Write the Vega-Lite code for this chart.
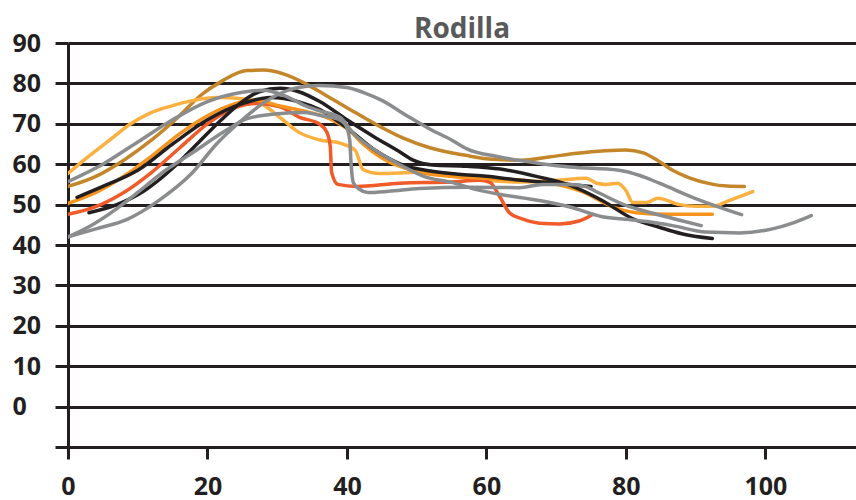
{
  "$schema": "https://vega.github.io/schema/vega-lite/v6.json",
  "width": 788,
  "height": 404,
  "autosize": {"type": "none"},
  "padding": {"left": 68, "top": 43, "right": 0, "bottom": 53},
  "background": "white",
  "title": {"text": "Rodilla", "font": "Open Sans", "fontSize": 28, "fontWeight": "bold", "color": "#58595B", "frame": "group", "anchor": "middle", "baseline": "alphabetic", "offset": 7, "dy": 42},
  "config": {"view": {"stroke": null}},
  "data": {"values": [
    {"s":"Serie 1","x":0,"y":54.5},{"s":"Serie 1","x":4,"y":57},{"s":"Serie 1","x":8,"y":61},{"s":"Serie 1","x":12,"y":66},{"s":"Serie 1","x":16,"y":72},{"s":"Serie 1","x":19,"y":77},{"s":"Serie 1","x":22,"y":80.5},{"s":"Serie 1","x":25.6,"y":83.2},{"s":"Serie 1","x":28,"y":83.3},{"s":"Serie 1","x":31,"y":82.3},{"s":"Serie 1","x":34,"y":80},{"s":"Serie 1","x":37,"y":77},{"s":"Serie 1","x":40,"y":74},{"s":"Serie 1","x":44,"y":70},{"s":"Serie 1","x":48,"y":66.5},{"s":"Serie 1","x":52,"y":64},{"s":"Serie 1","x":57,"y":62.2},{"s":"Serie 1","x":61,"y":61.2},{"s":"Serie 1","x":65,"y":61},{"s":"Serie 1","x":69,"y":61.8},{"s":"Serie 1","x":73,"y":62.7},{"s":"Serie 1","x":77,"y":63.3},{"s":"Serie 1","x":80,"y":63.5},{"s":"Serie 1","x":82.5,"y":62.8},{"s":"Serie 1","x":84.5,"y":61},{"s":"Serie 1","x":86.7,"y":58.5},{"s":"Serie 1","x":89,"y":56.7},{"s":"Serie 1","x":92,"y":55.2},{"s":"Serie 1","x":94.5,"y":54.6},{"s":"Serie 1","x":97,"y":54.5},

    {"s":"Serie 2","x":0,"y":57.7},{"s":"Serie 2","x":3,"y":62},{"s":"Serie 2","x":6,"y":66},{"s":"Serie 2","x":9,"y":70},{"s":"Serie 2","x":11.7,"y":72.6},{"s":"Serie 2","x":15,"y":74.5},{"s":"Serie 2","x":18,"y":75.8},{"s":"Serie 2","x":21.3,"y":76.5},{"s":"Serie 2","x":25,"y":76.2},{"s":"Serie 2","x":27.5,"y":75.2},{"s":"Serie 2","x":30.8,"y":71},{"s":"Serie 2","x":33,"y":68},{"s":"Serie 2","x":36.1,"y":66},{"s":"Serie 2","x":39,"y":65.2},{"s":"Serie 2","x":41.2,"y":63.4},{"s":"Serie 2","x":42.3,"y":58.7},{"s":"Serie 2","x":44.7,"y":57.7},{"s":"Serie 2","x":50.4,"y":58},{"s":"Serie 2","x":55,"y":57},{"s":"Serie 2","x":60,"y":56},{"s":"Serie 2","x":64.8,"y":55.6},{"s":"Serie 2","x":70,"y":56},{"s":"Serie 2","x":74.3,"y":56.5},{"s":"Serie 2","x":75.8,"y":55.3},{"s":"Serie 2","x":77.2,"y":55},{"s":"Serie 2","x":78.8,"y":55.3},{"s":"Serie 2","x":80,"y":53.5},{"s":"Serie 2","x":81,"y":50.5},{"s":"Serie 2","x":83,"y":50.5},{"s":"Serie 2","x":84.6,"y":51.6},{"s":"Serie 2","x":87.7,"y":50},{"s":"Serie 2","x":90,"y":49.6},{"s":"Serie 2","x":92.4,"y":49.6},{"s":"Serie 2","x":94.8,"y":51},{"s":"Serie 2","x":98.2,"y":53.2},

    {"s":"Serie 3","x":0,"y":47.6},{"s":"Serie 3","x":4,"y":49.5},{"s":"Serie 3","x":8,"y":53},{"s":"Serie 3","x":12,"y":58},{"s":"Serie 3","x":16,"y":64},{"s":"Serie 3","x":20,"y":70},{"s":"Serie 3","x":24,"y":74},{"s":"Serie 3","x":27,"y":75},{"s":"Serie 3","x":30.4,"y":74.2},{"s":"Serie 3","x":33.2,"y":71.6},{"s":"Serie 3","x":36,"y":70},{"s":"Serie 3","x":37.1,"y":68},{"s":"Serie 3","x":37.6,"y":64.5},{"s":"Serie 3","x":37.8,"y":58},{"s":"Serie 3","x":38.7,"y":55},{"s":"Serie 3","x":41.4,"y":54.5},{"s":"Serie 3","x":47.6,"y":55.3},{"s":"Serie 3","x":55,"y":55.6},{"s":"Serie 3","x":59,"y":56},{"s":"Serie 3","x":60.5,"y":55.5},{"s":"Serie 3","x":61.9,"y":52},{"s":"Serie 3","x":63.3,"y":48},{"s":"Serie 3","x":65,"y":46.5},{"s":"Serie 3","x":67.6,"y":45.4},{"s":"Serie 3","x":70.5,"y":45.2},{"s":"Serie 3","x":73.4,"y":46},{"s":"Serie 3","x":75,"y":47.3},

    {"s":"Serie 4","x":0,"y":50.3},{"s":"Serie 4","x":4,"y":53},{"s":"Serie 4","x":8,"y":57},{"s":"Serie 4","x":12,"y":62},{"s":"Serie 4","x":16,"y":67.5},{"s":"Serie 4","x":20,"y":72},{"s":"Serie 4","x":24,"y":75},{"s":"Serie 4","x":27,"y":75.8},{"s":"Serie 4","x":30.4,"y":74.4},{"s":"Serie 4","x":33.5,"y":73.3},{"s":"Serie 4","x":37.5,"y":71.3},{"s":"Serie 4","x":40.4,"y":68.3},{"s":"Serie 4","x":42.3,"y":65},{"s":"Serie 4","x":45,"y":61.5},{"s":"Serie 4","x":50.4,"y":58},{"s":"Serie 4","x":55,"y":57},{"s":"Serie 4","x":60,"y":56.5},{"s":"Serie 4","x":65,"y":56},{"s":"Serie 4","x":70,"y":55},{"s":"Serie 4","x":74,"y":53},{"s":"Serie 4","x":78,"y":49.5},{"s":"Serie 4","x":81.5,"y":48},{"s":"Serie 4","x":86,"y":47.6},{"s":"Serie 4","x":92.4,"y":47.6},

    {"s":"Serie 5","x":3,"y":48},{"s":"Serie 5","x":7,"y":50},{"s":"Serie 5","x":11,"y":53.5},{"s":"Serie 5","x":15,"y":59},{"s":"Serie 5","x":18.5,"y":65},{"s":"Serie 5","x":22,"y":71},{"s":"Serie 5","x":25,"y":75.5},{"s":"Serie 5","x":27.5,"y":78},{"s":"Serie 5","x":30.4,"y":78.8},{"s":"Serie 5","x":33,"y":78},{"s":"Serie 5","x":36.1,"y":75.5},{"s":"Serie 5","x":40,"y":71},{"s":"Serie 5","x":43.7,"y":67},{"s":"Serie 5","x":47.6,"y":63},{"s":"Serie 5","x":49.5,"y":61},{"s":"Serie 5","x":52.3,"y":59.8},{"s":"Serie 5","x":57.2,"y":59.5},{"s":"Serie 5","x":62,"y":58.8},{"s":"Serie 5","x":67.6,"y":56.8},{"s":"Serie 5","x":71.9,"y":54.8},{"s":"Serie 5","x":76.6,"y":51},{"s":"Serie 5","x":81,"y":46.5},{"s":"Serie 5","x":84.8,"y":44.4},{"s":"Serie 5","x":88,"y":42.8},{"s":"Serie 5","x":92.4,"y":41.6},

    {"s":"Serie 6","x":1.3,"y":51.8},{"s":"Serie 6","x":5,"y":54.5},{"s":"Serie 6","x":10,"y":58.5},{"s":"Serie 6","x":15,"y":65},{"s":"Serie 6","x":20,"y":71},{"s":"Serie 6","x":25,"y":75},{"s":"Serie 6","x":29,"y":76.5},{"s":"Serie 6","x":33,"y":75.5},{"s":"Serie 6","x":36.1,"y":73.5},{"s":"Serie 6","x":40,"y":69},{"s":"Serie 6","x":44,"y":63.5},{"s":"Serie 6","x":48,"y":59.8},{"s":"Serie 6","x":52,"y":58.3},{"s":"Serie 6","x":56,"y":57.5},{"s":"Serie 6","x":60,"y":57},{"s":"Serie 6","x":65,"y":56},{"s":"Serie 6","x":70,"y":55.3},{"s":"Serie 6","x":75,"y":54.5},

    {"s":"Serie 7","x":0,"y":55.7},{"s":"Serie 7","x":5,"y":60},{"s":"Serie 7","x":10,"y":65.5},{"s":"Serie 7","x":15,"y":71},{"s":"Serie 7","x":20,"y":75.5},{"s":"Serie 7","x":25,"y":77.8},{"s":"Serie 7","x":28,"y":78.3},{"s":"Serie 7","x":31,"y":77},{"s":"Serie 7","x":34,"y":74.5},{"s":"Serie 7","x":36.1,"y":73.2},{"s":"Serie 7","x":39,"y":71.6},{"s":"Serie 7","x":41,"y":67.5},{"s":"Serie 7","x":44,"y":63.5},{"s":"Serie 7","x":48,"y":59.5},{"s":"Serie 7","x":51,"y":57},{"s":"Serie 7","x":55,"y":55.5},{"s":"Serie 7","x":58.6,"y":53.7},{"s":"Serie 7","x":62,"y":52.5},{"s":"Serie 7","x":67.6,"y":51},{"s":"Serie 7","x":72,"y":49.4},{"s":"Serie 7","x":76.6,"y":47},{"s":"Serie 7","x":80.5,"y":46.3},{"s":"Serie 7","x":83,"y":45.8},{"s":"Serie 7","x":86.7,"y":44.8},{"s":"Serie 7","x":91.5,"y":43.2},{"s":"Serie 7","x":96.3,"y":43},{"s":"Serie 7","x":101,"y":44},{"s":"Serie 7","x":104,"y":45.5},{"s":"Serie 7","x":106.6,"y":47.3},

    {"s":"Serie 8","x":0,"y":42},{"s":"Serie 8","x":4,"y":44},{"s":"Serie 8","x":8.4,"y":46.3},{"s":"Serie 8","x":13,"y":51},{"s":"Serie 8","x":17.9,"y":58},{"s":"Serie 8","x":21.3,"y":65},{"s":"Serie 8","x":25,"y":71},{"s":"Serie 8","x":27.5,"y":74.5},{"s":"Serie 8","x":30.4,"y":77.5},{"s":"Serie 8","x":33,"y":79},{"s":"Serie 8","x":36,"y":79.5},{"s":"Serie 8","x":40,"y":79},{"s":"Serie 8","x":42.3,"y":77.8},{"s":"Serie 8","x":45,"y":75.8},{"s":"Serie 8","x":48.6,"y":72},{"s":"Serie 8","x":52,"y":68.6},{"s":"Serie 8","x":55,"y":66},{"s":"Serie 8","x":57.2,"y":63.8},{"s":"Serie 8","x":61.9,"y":61.8},{"s":"Serie 8","x":67.6,"y":60.2},{"s":"Serie 8","x":72,"y":59.3},{"s":"Serie 8","x":79,"y":58.5},{"s":"Serie 8","x":82,"y":57.2},{"s":"Serie 8","x":84.8,"y":55.3},{"s":"Serie 8","x":90,"y":51.5},{"s":"Serie 8","x":96.6,"y":47.5},

    {"s":"Serie 9","x":0,"y":42},{"s":"Serie 9","x":3,"y":44.5},{"s":"Serie 9","x":7,"y":49},{"s":"Serie 9","x":10,"y":53},{"s":"Serie 9","x":13.2,"y":57.5},{"s":"Serie 9","x":18,"y":63},{"s":"Serie 9","x":22.8,"y":68.5},{"s":"Serie 9","x":25.6,"y":71.2},{"s":"Serie 9","x":30,"y":72.5},{"s":"Serie 9","x":34,"y":72.8},{"s":"Serie 9","x":36.1,"y":72.1},{"s":"Serie 9","x":38.5,"y":71.3},{"s":"Serie 9","x":39.7,"y":70},{"s":"Serie 9","x":40.4,"y":66},{"s":"Serie 9","x":40.6,"y":60},{"s":"Serie 9","x":40.9,"y":55.5},{"s":"Serie 9","x":41.8,"y":53.8},{"s":"Serie 9","x":43,"y":53},{"s":"Serie 9","x":46,"y":53.3},{"s":"Serie 9","x":50.4,"y":54},{"s":"Serie 9","x":57.6,"y":54.3},{"s":"Serie 9","x":64.8,"y":54.2},{"s":"Serie 9","x":68,"y":55},{"s":"Serie 9","x":71.9,"y":55},{"s":"Serie 9","x":74,"y":54.6},{"s":"Serie 9","x":76,"y":53},{"s":"Serie 9","x":80,"y":49.8},{"s":"Serie 9","x":84,"y":47.8},{"s":"Serie 9","x":88,"y":46},{"s":"Serie 9","x":90.8,"y":44.8}
  ]},
  "mark": {"type": "line", "interpolate": "monotone", "strokeWidth": 3.5, "strokeCap": "round", "clip": true},
  "encoding": {
    "x": {"field": "x", "type": "quantitative",
      "scale": {"domain": [0, 113], "nice": false, "zero": false},
      "axis": {"title": null, "values": [0, 20, 40, 60, 80, 100], "grid": false,
        "domainColor": "#231F20", "domainWidth": 3, "tickColor": "#231F20", "tickWidth": 3, "tickSize": 12,
        "labelFont": "Open Sans", "labelFontSize": 25, "labelFontWeight": "bold", "labelColor": "#231F20", "labelPadding": 15, "labelFlush": false}},
    "y": {"field": "y", "type": "quantitative",
      "scale": {"domain": [-10, 90], "nice": false, "zero": false},
      "axis": {"title": null, "values": [-10, 0, 10, 20, 30, 40, 50, 60, 70, 80, 90],
        "labelExpr": "datum.value < 0 ? '' : datum.label",
        "grid": true, "gridColor": "#231F20", "gridWidth": 3, "gridOpacity": 1,
        "domainColor": "#231F20", "domainWidth": 3, "tickColor": "#231F20", "tickWidth": 3, "tickSize": 13,
        "labelFont": "Open Sans", "labelFontSize": 25, "labelFontWeight": "bold", "labelColor": "#231F20", "labelAlign": "left", "labelPadding": 43, "labelBaseline": "middle"}},
    "color": {"field": "s", "type": "nominal", "legend": null,
      "scale": {"domain": ["Serie 1","Serie 2","Serie 3","Serie 4","Serie 5","Serie 6","Serie 7","Serie 8","Serie 9"],
        "range": ["#C4862B","#FBB040","#F15A29","#F7941E","#231F20","#231F20","#8A8C8E","#8A8C8E","#8A8C8E"]}}
  }
}
